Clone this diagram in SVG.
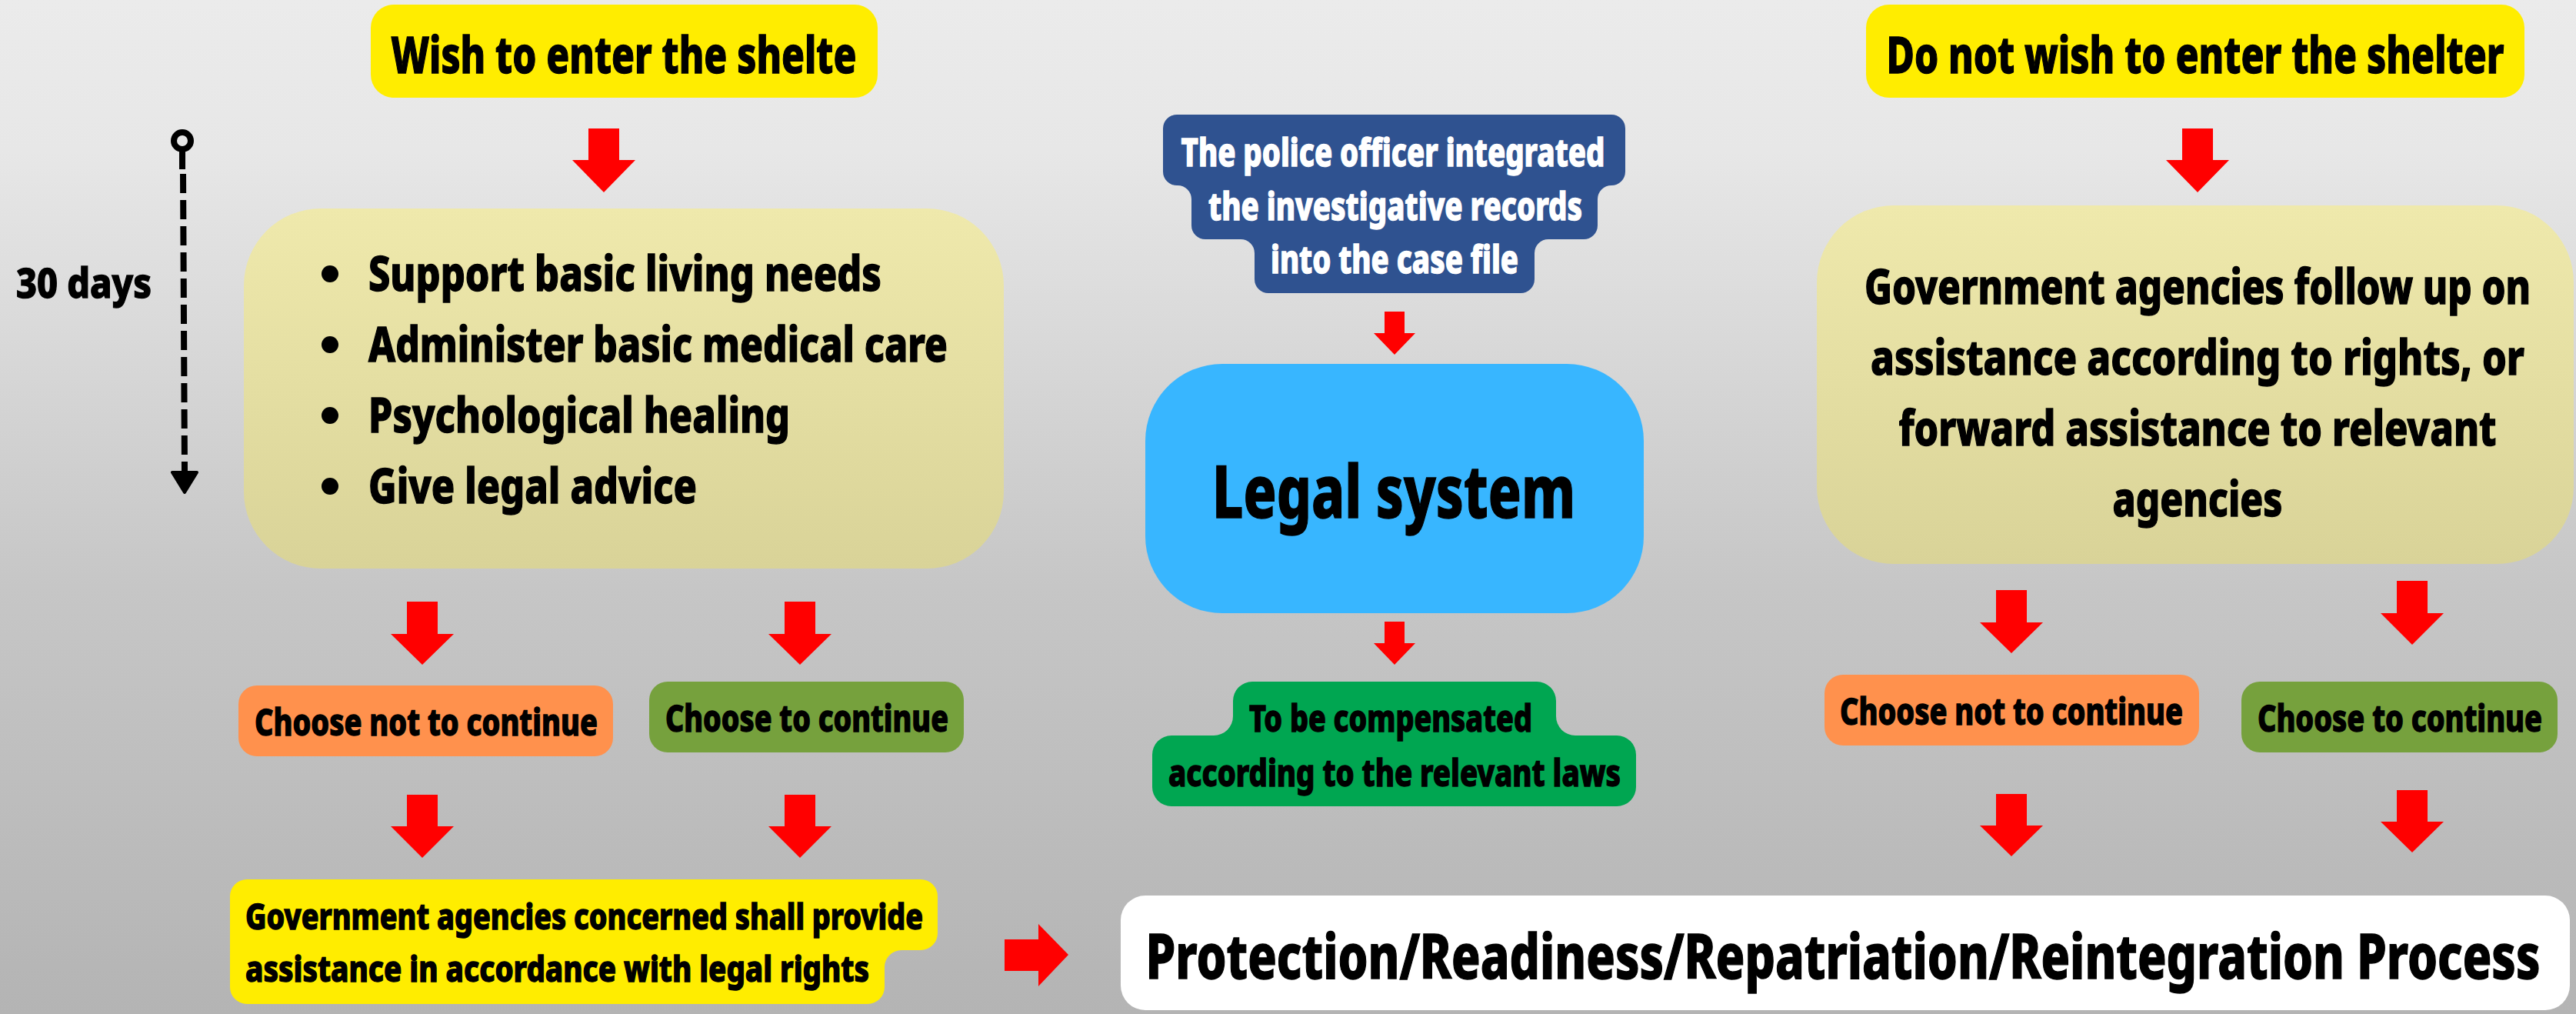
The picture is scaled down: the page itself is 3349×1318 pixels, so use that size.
<svg xmlns="http://www.w3.org/2000/svg" width="3349" height="1318" viewBox="0 0 3349 1318">
<defs>
<linearGradient id="bg" x1="0" y1="0" x2="0" y2="1">
<stop offset="0" stop-color="#EBEBEB"/>
<stop offset="0.15" stop-color="#E7E7E7"/>
<stop offset="0.5" stop-color="#CCCCCC"/>
<stop offset="0.58" stop-color="#C6C6C6"/>
<stop offset="1" stop-color="#B4B4B4"/>
</linearGradient>
<linearGradient id="khaki" x1="0" y1="0" x2="0" y2="1">
<stop offset="0" stop-color="#EFE9AC"/>
<stop offset="1" stop-color="#D9D398"/>
</linearGradient>
</defs>
<style>
.t{font-family:"Noto Sans","Open Sans","Liberation Sans",sans-serif;font-weight:800;fill:#000;stroke:#000;stroke-width:1.4}
.w{fill:#fff;stroke:#fff}
.c{text-anchor:middle}
.arrow{fill:#FF0000}
.yel{fill:#FFED00}
.org{fill:#FF914D}
.grn{fill:#76A13D}
</style>
<rect x="0" y="0" width="3349" height="1318" fill="url(#bg)"/>

<g id="timeline">
<circle cx="237" cy="183" r="11" fill="none" stroke="#000" stroke-width="8"/>
<line x1="237" y1="194" x2="237" y2="220" stroke="#000" stroke-width="8"/>
<line x1="238" y1="226" x2="240" y2="612" stroke="#000" stroke-width="8" stroke-dasharray="25 9"/>
<path d="M224,614 L256,614 L240,640 Z" fill="#000" stroke="#000" stroke-width="4" stroke-linejoin="round"/>
<text class="t" x="21" y="387" font-size="54" textLength="176" lengthAdjust="spacingAndGlyphs">30 days</text>
</g>

<g id="wish">
<rect class="yel" x="482" y="6" width="659" height="121" rx="30"/>
<text class="t c" x="811" y="95" font-size="66" textLength="605" lengthAdjust="spacingAndGlyphs">Wish to enter the shelte</text>
</g>

<g id="notwish">
<rect class="yel" x="2426" y="6" width="856" height="121" rx="30"/>
<text class="t c" x="2854" y="95" font-size="66" textLength="803" lengthAdjust="spacingAndGlyphs">Do not wish to enter the shelter</text>
</g>

<g id="services">
<rect x="317" y="271" width="988" height="468" rx="100" fill="url(#khaki)"/>
<circle cx="429" cy="356" r="11"/>
<circle cx="429" cy="448" r="11"/>
<circle cx="429" cy="540" r="11"/>
<circle cx="429" cy="632" r="11"/>
<text class="t" x="479" y="378" font-size="62" textLength="667" lengthAdjust="spacingAndGlyphs">Support basic living needs</text>
<text class="t" x="479" y="470" font-size="62" textLength="753" lengthAdjust="spacingAndGlyphs">Administer basic medical care</text>
<text class="t" x="479" y="562" font-size="62" textLength="548" lengthAdjust="spacingAndGlyphs">Psychological healing</text>
<text class="t" x="479" y="654" font-size="62" textLength="427" lengthAdjust="spacingAndGlyphs">Give legal advice</text>
</g>

<g id="followup">
<rect x="2362" y="267" width="984" height="466" rx="100" fill="url(#khaki)"/>
<text class="t c" x="2857" y="395" font-size="62" textLength="866" lengthAdjust="spacingAndGlyphs">Government agencies follow up on</text>
<text class="t c" x="2857" y="487" font-size="62" textLength="850" lengthAdjust="spacingAndGlyphs">assistance according to rights, or</text>
<text class="t c" x="2857" y="579" font-size="62" textLength="777" lengthAdjust="spacingAndGlyphs">forward assistance to relevant</text>
<text class="t c" x="2857" y="671" font-size="62" textLength="221" lengthAdjust="spacingAndGlyphs">agencies</text>
</g>

<g id="police">
<path fill="#2F5290" d="M1530,149 H2095 A18,18 0 0 1 2113,167 V223 A18,18 0 0 1 2095,241 H2095 A18,18 0 0 0 2077,259 V293 A18,18 0 0 1 2059,311 H2013 A18,18 0 0 0 1995,329 V363 A18,18 0 0 1 1977,381 H1649 A18,18 0 0 1 1631,363 V329 A18,18 0 0 0 1613,311 H1567 A18,18 0 0 1 1549,293 V259 A18,18 0 0 0 1531,241 H1530 A18,18 0 0 1 1512,223 V167 A18,18 0 0 1 1530,149 Z"/>
<text class="t w c" x="1811" y="216" font-size="50" textLength="551" lengthAdjust="spacingAndGlyphs">The police officer integrated</text>
<text class="t w c" x="1814" y="286" font-size="50" textLength="486" lengthAdjust="spacingAndGlyphs">the investigative records</text>
<text class="t w c" x="1813" y="355" font-size="50" textLength="322" lengthAdjust="spacingAndGlyphs">into the case file</text>
</g>

<g id="legal">
<rect x="1489" y="473" width="648" height="324" rx="100" fill="#38B6FF"/>
<text class="t c" x="1812" y="673" font-size="95" font-weight="900" stroke-width="2.5" textLength="472" lengthAdjust="spacingAndGlyphs">Legal system</text>
</g>

<g id="compensated">
<path fill="#00A651" d="M1628,886 H1998 A25,25 0 0 1 2023,911 V931 A25,25 0 0 0 2048,956 H2102 A25,25 0 0 1 2127,981 V1023 A25,25 0 0 1 2102,1048 H1523 A25,25 0 0 1 1498,1023 V981 A25,25 0 0 1 1523,956 H1578 A25,25 0 0 0 1603,931 V911 A25,25 0 0 1 1628,886 Z"/>
<text class="t c" x="1808" y="951" font-size="48" textLength="368" lengthAdjust="spacingAndGlyphs">To be compensated</text>
<text class="t c" x="1813" y="1022" font-size="48" textLength="588" lengthAdjust="spacingAndGlyphs">according to the relevant laws</text>
</g>

<g id="notcontinue-left">
<rect class="org" x="310" y="891" width="487" height="92" rx="24"/>
<text class="t c" x="554" y="956" font-size="48" textLength="446" lengthAdjust="spacingAndGlyphs">Choose not to continue</text>
</g>
<g id="continue-left">
<rect class="grn" x="844" y="886" width="409" height="92" rx="24"/>
<text class="t c" x="1049" y="951" font-size="48" textLength="368" lengthAdjust="spacingAndGlyphs">Choose to continue</text>
</g>
<g id="notcontinue-right">
<rect class="org" x="2372" y="877" width="487" height="92" rx="24"/>
<text class="t c" x="2615" y="942" font-size="48" textLength="446" lengthAdjust="spacingAndGlyphs">Choose not to continue</text>
</g>
<g id="continue-right">
<rect class="grn" x="2914" y="886" width="411" height="92" rx="24"/>
<text class="t c" x="3120" y="951" font-size="48" textLength="370" lengthAdjust="spacingAndGlyphs">Choose to continue</text>
</g>

<g id="assistance">
<path class="yel" d="M321,1143 H1197 A22,22 0 0 1 1219,1165 V1213 A22,22 0 0 1 1197,1235 H1172 A22,22 0 0 0 1150,1257 V1283 A22,22 0 0 1 1128,1305 H321 A22,22 0 0 1 299,1283 V1165 A22,22 0 0 1 321,1143 Z"/>
<text class="t" x="319" y="1208" font-size="46" textLength="881" lengthAdjust="spacingAndGlyphs">Government agencies concerned shall provide</text>
<text class="t" x="319" y="1276" font-size="46" textLength="811" lengthAdjust="spacingAndGlyphs">assistance in accordance with legal rights</text>
</g>

<g id="process">
<rect x="1457" y="1164" width="1884" height="149" rx="32" fill="#FFFFFF"/>
<text class="t c" x="2396" y="1272" font-size="80" stroke-width="2" textLength="1813" lengthAdjust="spacingAndGlyphs">Protection/Readiness/Repatriation/Reintegration Process</text>
</g>

<g id="connectors">
<path class="arrow" d="M765,167 H805 V208 H826 L785,250 L744,208 H765 Z"/>
<path class="arrow" d="M2837,167 H2877 V208 H2898 L2857,250 L2816,208 H2837 Z"/>
<path class="arrow" d="M1800,405 H1826 V433 H1840 L1813,461 L1786,433 H1800 Z"/>
<path class="arrow" d="M1800,808 H1826 V836 H1840 L1813,864 L1786,836 H1800 Z"/>
<path class="arrow" d="M529,782 H569 V824 H590 L549,864 L508,824 H529 Z"/>
<path class="arrow" d="M1020,782 H1060 V824 H1081 L1040,864 L999,824 H1020 Z"/>
<path class="arrow" d="M529,1033 H569 V1074 H590 L549,1115 L508,1074 H529 Z"/>
<path class="arrow" d="M1020,1033 H1060 V1074 H1081 L1040,1115 L999,1074 H1020 Z"/>
<path class="arrow" d="M2595,767 H2635 V809 H2656 L2615,849 L2574,809 H2595 Z"/>
<path class="arrow" d="M3116,755 H3156 V797 H3177 L3136,838 L3095,797 H3116 Z"/>
<path class="arrow" d="M2595,1032 H2635 V1073 H2656 L2615,1113 L2574,1073 H2595 Z"/>
<path class="arrow" d="M3116,1027 H3156 V1068 H3177 L3136,1108 L3095,1068 H3116 Z"/>
<path class="arrow" d="M1306,1221 H1350 V1201 L1389,1241 L1350,1282 V1262 H1306 Z"/>
</g>
</svg>
